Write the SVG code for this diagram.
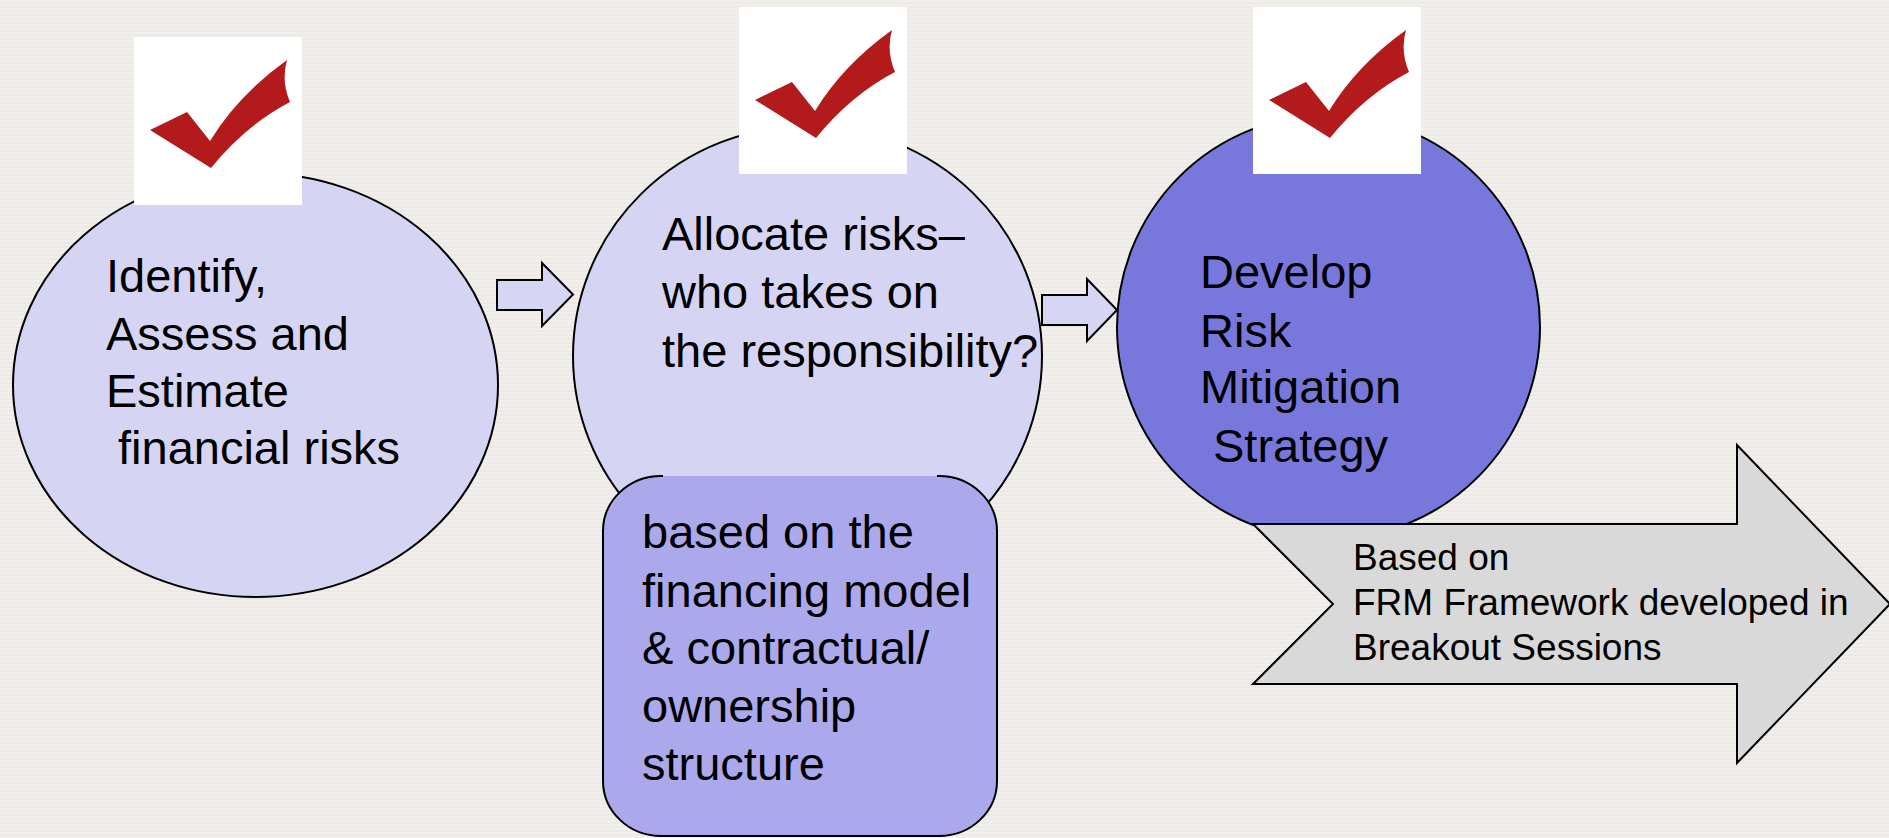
<svg xmlns="http://www.w3.org/2000/svg" width="1889" height="838" viewBox="0 0 1889 838">
  <style>
    .txt { font-family: "Liberation Sans", Arial, sans-serif; font-size: 47px; fill: #000; }
    .small { font-family: "Liberation Sans", Arial, sans-serif; font-size: 37px; fill: #000; }
    .light { fill: #D5D5F3; stroke: #000; stroke-width: 2; }
    .dark { fill: #7878DC; stroke: #000; stroke-width: 2; }
    .badge { fill: #FFFFFF; }
    .tick { fill: #B21A1C; }
    .blk { fill: #D6D6F4; stroke: #000; stroke-width: 2; stroke-linejoin: miter; }
  </style>
  <defs>
    <pattern id="stripes" width="8" height="4" patternUnits="userSpaceOnUse">
      <rect width="8" height="4" fill="#EDEAE5"/>
      <rect y="0" width="8" height="2" fill="#F1EFEB"/>
    </pattern>
    <path id="check" d="M16,93 L53,75 L76,104 Q104,58 153,23 Q147,44 156,65 Q112,88 77,131 L16,93 Z"/>
  </defs>

  <rect x="0" y="0" width="1889" height="838" fill="url(#stripes)"/>

  <g id="node-identify">
    <ellipse class="light" cx="255.5" cy="385" rx="242.5" ry="212"/>
    <text class="txt" x="106" y="292">Identify,</text>
    <text class="txt" x="106" y="350">Assess and</text>
    <text class="txt" x="106" y="407">Estimate</text>
    <text class="txt" x="118" y="464">financial risks</text>
  </g>

  <g id="node-allocate">
    <ellipse class="light" cx="807.5" cy="356" rx="234.5" ry="230"/>
    <text class="txt" x="662" y="250">Allocate risks–</text>
    <text class="txt" x="662" y="308">who takes on</text>
    <text class="txt" x="662" y="367">the responsibility?</text>
  </g>

  <g id="node-develop">
    <ellipse class="dark" cx="1328.5" cy="327" rx="211.5" ry="212"/>
    <text class="txt" x="1200" y="288">Develop</text>
    <text class="txt" x="1200" y="347">Risk</text>
    <text class="txt" x="1200" y="403">Mitigation</text>
    <text class="txt" x="1213" y="462">Strategy</text>
  </g>

  <g id="connectors">
    <path class="blk" d="M497,280 L542,280 L542,263 L573,294.5 L542,326 L542,310 L497,310 Z"/>
    <path class="blk" d="M1042,295 L1087,295 L1087,279 L1117,310 L1087,341 L1087,325 L1042,325 Z"/>
  </g>

  <g id="node-basis">
    <rect x="603" y="476" width="394" height="360" rx="58" ry="55" fill="#ABA9EB"/>
    <path d="M663,476 L661,476 A58,55 0 0 0 603,531 L603,781 A58,55 0 0 0 661,836 L939,836 A58,55 0 0 0 997,781 L997,531 A58,55 0 0 0 939,476 L937,476" fill="none" stroke="#000" stroke-width="2"/>
    <text class="txt" x="642" y="548">based on the</text>
    <text class="txt" x="642" y="607">financing model</text>
    <text class="txt" x="642" y="664">&amp; contractual/</text>
    <text class="txt" x="642" y="722">ownership</text>
    <text class="txt" x="642" y="780">structure</text>
  </g>

  <g id="node-frm">
    <path d="M1253,524 L1737,524 L1737,445 L1890,604 L1737,763 L1737,684 L1253,684 L1333,604 Z" fill="#D9D9D9" stroke="#000" stroke-width="2"/>
    <text class="small" x="1353" y="570">Based on</text>
    <text class="small" x="1353" y="615">FRM Framework developed in</text>
    <text class="small" x="1353" y="660">Breakout Sessions</text>
  </g>

  <g id="badge-1">
    <rect class="badge" x="134" y="37" width="168" height="168"/>
    <use href="#check" class="tick" x="134" y="37"/>
  </g>
  <g id="badge-2">
    <rect class="badge" x="739" y="7" width="168" height="167"/>
    <use href="#check" class="tick" x="739" y="7"/>
  </g>
  <g id="badge-3">
    <rect class="badge" x="1253" y="7" width="168" height="167"/>
    <use href="#check" class="tick" x="1253" y="7"/>
  </g>
</svg>
